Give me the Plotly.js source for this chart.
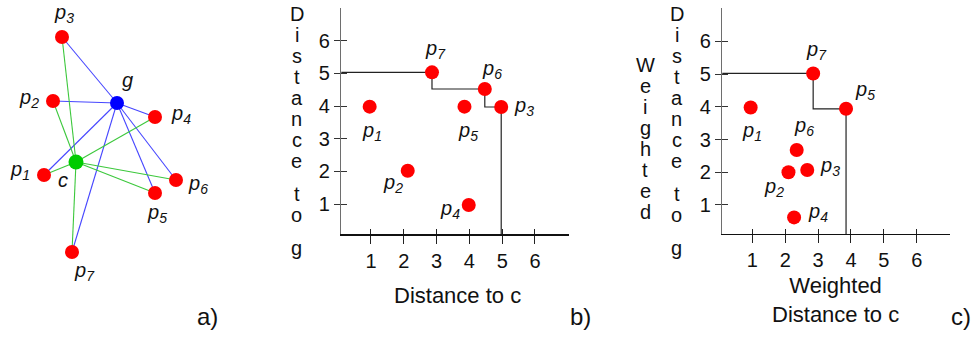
<!DOCTYPE html>
<html>
<head>
<meta charset="utf-8">
<script src="https://cdn.plot.ly/plotly-3.0.1.min.js"></script>
<style>
  html, body { margin: 0; padding: 0; background: #fff; }
  #chart { width: 978px; height: 338px; }
</style>
</head>
<body>
<div id="chart"></div>
<script>
// ---------- data ----------
// a) point layout: seven points p1..p7 with the centroid c and the point g
const pointNames = ['p1', 'p2', 'p3', 'p4', 'p5', 'p6', 'p7'];
const layoutX = [44, 53, 62, 155, 155, 176, 72];
const layoutY = [175, 101, 37, 117, 193, 180, 252];
const gXY = [117, 103];
const cXY = [76, 162];

// b) distance to c versus distance to g
const distC = [0.96, 2.12, 4.97, 3.98, 3.85, 4.47, 2.86];
const distG = [3.98, 2.02, 3.97, 0.97, 3.98, 4.52, 5.03];
const skylineB = ['p7', 'p6', 'p3'];

// c) weighted distances
const wDistC = [0.95, 2.10, 2.67, 2.27, 3.85, 2.35, 2.85];
const wDistG = [3.98, 2.00, 2.07, 0.62, 3.94, 2.68, 5.02];
const skylineC = ['p7', 'p5'];

const tickValues = [1, 2, 3, 4, 5, 6];

// ---------- styling helpers ----------
const FONT = 'Liberation Sans, Arial, Helvetica, sans-serif';
const W = 978, H = 338;
const px = v => v / W;            // horizontal pixel -> paper
const py = v => 1 - v / H;        // vertical pixel -> paper

const pointLabel = n => '<i>p<sub>' + n.slice(1) + '</sub></i>';

// label offsets (pixels, right / down) for each point in each panel
const offA = [[-24, -5], [-24, -3], [2, -24], [26, -3], [2, 20], [22, 4], [12, 19]];
const offB = [[2, 25], [-15, 13], [23, 0], [-19, 4], [4, 25], [7, -20], [4, -23]];
const offC = [[1, 24], [-14, 15], [23, -3], [24, -5], [19, -18], [7, -24], [3, -23]];

function staircase(names, xs, ys, xStart, yEnd) {
  const idx = names.map(n => pointNames.indexOf(n));
  const sx = [xStart], sy = [ys[idx[0]]];
  idx.forEach((k, i) => {
    sx.push(xs[k]); sy.push(ys[k]);
    if (i < idx.length - 1) { sx.push(xs[k]); sy.push(ys[idx[i + 1]]); }
  });
  const last = idx[idx.length - 1];
  sx.push(xs[last]); sy.push(yEnd);
  return { x: sx, y: sy };
}

// ---------- traces ----------
const traces = [];

// a) edges from g (blue) and from c (green) to every point
function edges(center) {
  const ex = [], ey = [];
  layoutX.forEach((x, i) => { ex.push(center[0], x, null); ey.push(center[1], layoutY[i], null); });
  return { x: ex, y: ey };
}
const eg = edges(gXY), ec = edges(cXY);
traces.push({ x: eg.x, y: eg.y, xaxis: 'x', yaxis: 'y', mode: 'lines',
  line: { color: 'rgb(70,70,255)', width: 1.1 }, hoverinfo: 'skip', showlegend: false });
traces.push({ x: ec.x, y: ec.y, xaxis: 'x', yaxis: 'y', mode: 'lines',
  line: { color: 'rgb(60,200,60)', width: 1.1 }, hoverinfo: 'skip', showlegend: false });
traces.push({ x: layoutX, y: layoutY, xaxis: 'x', yaxis: 'y', mode: 'markers',
  marker: { color: '#ff0000', size: 14 }, showlegend: false });
traces.push({ x: [gXY[0]], y: [gXY[1]], xaxis: 'x', yaxis: 'y', mode: 'markers',
  marker: { color: '#0000ff', size: 14 }, showlegend: false });
traces.push({ x: [cXY[0]], y: [cXY[1]], xaxis: 'x', yaxis: 'y', mode: 'markers',
  marker: { color: '#00cc00', size: 15 }, showlegend: false });

// b) and c) axis ranges
const rangeBX = [0.095, 7.046], rangeBY = [0.073, 7.0];
const rangeCX = [0.088, 7.01], rangeCY = [0.113, 7.02];

// skyline on the base axes, points on the overlaid axes (drawn on top)
const stB = staircase(skylineB, distC, distG, 0, 0);
traces.push({ x: stB.x, y: stB.y, xaxis: 'x2', yaxis: 'y2', mode: 'lines',
  line: { color: '#222', width: 1.2 }, hoverinfo: 'skip', showlegend: false });
traces.push({ x: distC, y: distG, xaxis: 'x3', yaxis: 'y3', mode: 'markers',
  marker: { color: '#ff0000', size: 14 }, showlegend: false });

const stC = staircase(skylineC, wDistC, wDistG, 0, 0);
traces.push({ x: stC.x, y: stC.y, xaxis: 'x4', yaxis: 'y4', mode: 'lines',
  line: { color: '#222', width: 1.2 }, hoverinfo: 'skip', showlegend: false });
traces.push({ x: wDistC, y: wDistG, xaxis: 'x5', yaxis: 'y5', mode: 'markers',
  marker: { color: '#ff0000', size: 14 }, showlegend: false });

// ---------- axes ----------
const tickFont = { family: FONT, size: 20, color: '#111' };
function mainX(domain, range, anchor) {
  return { domain, range, anchor, tickmode: 'array', tickvals: tickValues,
    ticks: 'outside', ticklen: 8, tickwidth: 1, tickcolor: '#222',
    showline: true, linecolor: '#111', linewidth: 1.3,
    showgrid: false, zeroline: false, tickfont: tickFont, fixedrange: true };
}
function mainY(domain, range, anchor) {
  return { domain, range, anchor, tickmode: 'array', tickvals: tickValues,
    ticks: 'outside', ticklen: 6, tickwidth: 1, tickcolor: '#333',
    showline: true, linecolor: '#6e6e6e', linewidth: 1.5,
    showgrid: false, zeroline: false, tickfont: tickFont, fixedrange: true };
}
function innerTicks(base, range, anchor, len, color) {
  return { overlaying: base, range, anchor, tickmode: 'array', tickvals: tickValues,
    ticks: 'inside', ticklen: len, tickwidth: 1, tickcolor: color,
    showticklabels: false, showline: false, showgrid: false, zeroline: false, fixedrange: true };
}

const domBX = [px(341.3), px(569.3)], domBY = [py(234.3), py(8)];
const domCX = [px(722.3), px(950)], domCY = [py(234), py(8)];

const layout = {
  width: W, height: H,
  margin: { l: 0, r: 0, t: 0, b: 0 },
  paper_bgcolor: '#fff', plot_bgcolor: 'rgba(0,0,0,0)',
  font: { family: FONT, color: '#111' },
  showlegend: false,
  xaxis: { domain: [0, px(240)], range: [0, 240], visible: false, fixedrange: true },
  yaxis: { domain: [0, 1], range: [H, 0], visible: false, fixedrange: true },

  xaxis2: mainX(domBX, rangeBX, 'y2'),
  yaxis2: mainY(domBY, rangeBY, 'x2'),
  xaxis3: innerTicks('x2', rangeBX, 'y3', 5, '#222'),
  yaxis3: innerTicks('y2', rangeBY, 'x3', 6, '#333'),

  xaxis4: mainX(domCX, rangeCX, 'y4'),
  yaxis4: mainY(domCY, rangeCY, 'x4'),
  xaxis5: innerTicks('x4', rangeCX, 'y5', 5, '#222'),
  yaxis5: innerTicks('y4', rangeCY, 'x5', 6, '#333'),
  annotations: []
};

const ann = layout.annotations;
const labelFont = { family: FONT, size: 20, color: '#111' };

function addPointLabels(xs, ys, offs, xr, yr) {
  pointNames.forEach((n, i) => {
    ann.push({ x: xs[i], y: ys[i], xref: xr, yref: yr, text: pointLabel(n),
      showarrow: false, xanchor: 'center', yanchor: 'middle',
      xshift: offs[i][0], yshift: -offs[i][1], font: labelFont });
  });
}
addPointLabels(layoutX, layoutY, offA, 'x', 'y');
addPointLabels(distC, distG, offB, 'x2', 'y2');
addPointLabels(wDistC, wDistG, offC, 'x4', 'y4');

ann.push({ x: gXY[0], y: gXY[1], xref: 'x', yref: 'y', text: '<i>g</i>', showarrow: false,
  xshift: 10, yshift: 23, font: labelFont });
ann.push({ x: cXY[0], y: cXY[1], xref: 'x', yref: 'y', text: '<i>c</i>', showarrow: false,
  xshift: -13, yshift: -18, font: labelFont });

// stacked (one letter per line) vertical axis titles
function stacked(text, xPix, yTop, pitch, gap) {
  let y = yTop;
  for (const ch of text) {
    if (ch === ' ') { y += gap; continue; }
    ann.push({ x: px(xPix), y: py(y), xref: 'paper', yref: 'paper', text: ch,
      showarrow: false, xanchor: 'center', yanchor: 'middle',
      font: { family: FONT, size: 20, color: '#111' } });
    y += pitch;
  }
}
stacked('Distance to g', 296.5, 14, 21, 12);
stacked('Distance to g', 676.5, 14, 21, 12);
stacked('Weighted', 645, 65, 21, 0);

// horizontal axis titles
const titleFont = { family: FONT, size: 22, color: '#111' };
ann.push({ x: px(457.5), y: py(295), xref: 'paper', yref: 'paper', text: 'Distance to c',
  showarrow: false, xanchor: 'center', yanchor: 'middle', font: titleFont });
ann.push({ x: px(835), y: py(300), xref: 'paper', yref: 'paper', text: 'Weighted<br>Distance to c',
  showarrow: false, xanchor: 'center', yanchor: 'middle', align: 'center', font: titleFont });

// panel letters
const panelFont = { family: FONT, size: 24, color: '#111' };
[['a)', 207], ['b)', 580], ['c)', 961]].forEach(([t, x]) => {
  ann.push({ x: px(x), y: py(316), xref: 'paper', yref: 'paper', text: t,
    showarrow: false, xanchor: 'center', yanchor: 'middle', font: panelFont });
});

Plotly.newPlot('chart', traces, layout, { displayModeBar: false, staticPlot: true });
</script>
</body>
</html>
